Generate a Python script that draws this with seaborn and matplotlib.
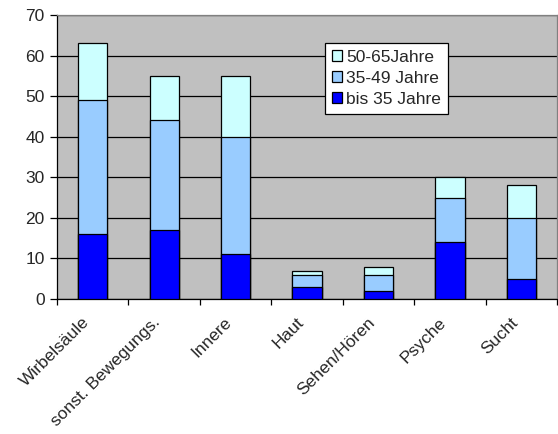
import numpy as np
import pandas as pd
import seaborn as sns
import matplotlib.pyplot as plt
from matplotlib.transforms import ScaledTranslation

categories = ['Wirbelsäule', 'sonst. Bewegungs.', 'Innere', 'Haut', 'Sehen/Hören', 'Psyche', 'Sucht']
bis35 = [16, 17, 11, 3, 2, 14, 5]
j35_49 = [33, 27, 29, 3, 4, 11, 15]
j50_65 = [14, 11, 15, 1, 2, 5, 8]
groups = ['50-65Jahre', '35-49 Jahre', 'bis 35 Jahre']
colors = ['#CCFFFF', '#99CCFF', '#0000FF']

sns.set_style('white')
plt.rcParams['font.family'] = ['Liberation Sans', 'DejaVu Sans']

# cumulative heights, drawn from the tallest down so the stacks overlap
lvl1 = np.array(bis35)
lvl2 = lvl1 + np.array(j35_49)
lvl3 = lvl2 + np.array(j50_65)
df = pd.DataFrame({'cat': categories * 3,
                   'value': np.concatenate([lvl3, lvl2, lvl1]),
                   'group': np.repeat(groups, len(categories))})

fig = plt.figure(figsize=(5.58, 4.34), dpi=100)
ax = fig.add_axes([57 / 558, 135 / 434, 500 / 558, 284 / 434])
ax.set_facecolor('#C0C0C0')

for g, c in zip(groups, colors):
    sub = df[df['group'] == g]
    sns.barplot(data=sub, x='cat', y='value', color=c, width=0.41, saturation=1,
                edgecolor='black', linewidth=0.9, ax=ax, label=g, zorder=3)

ax.set_xlim(-0.5, len(categories) - 0.5)
ax.set_ylim(0, 70)
ax.set_yticks(range(0, 71, 10))
ax.yaxis.grid(True, color='black', linewidth=0.9, zorder=0)
ax.set_axisbelow(True)
ax.set_xlabel('')
ax.set_ylabel('')

ax.set_xticks(np.arange(-0.5, len(categories), 1), minor=True)
ax.tick_params(axis='x', which='major', length=0, labelsize=12.5, pad=15)
ax.tick_params(axis='x', which='minor', length=4, width=0.9, direction='out', color='black', bottom=True)
ax.tick_params(axis='y', length=5, width=0.9, direction='out', color='black', left=True,
               labelsize=12.5, pad=4)
shift = ScaledTranslation(-6 / 100, 0, fig.dpi_scale_trans)
for lab in ax.get_xticklabels():
    lab.set_rotation(45)
    lab.set_ha('right')
    lab.set_va('center')
    lab.set_rotation_mode('anchor')
    lab.set_transform(lab.get_transform() + shift)

for side in ['top', 'right']:
    ax.spines[side].set_color('#808080')
    ax.spines[side].set_linewidth(0.9)
for side in ['left', 'bottom']:
    ax.spines[side].set_color('black')
    ax.spines[side].set_linewidth(0.9)

leg = ax.legend(loc='upper left', bbox_to_anchor=(325 / 558, 1 - 43 / 434),
                bbox_transform=fig.transFigure, frameon=True, fancybox=False,
                fontsize=12.5, handlelength=0.6, handleheight=0.6, handletextpad=0.2,
                borderpad=0.4, labelspacing=0.35, borderaxespad=0)
leg.get_frame().set_edgecolor('black')
leg.get_frame().set_linewidth(0.9)
leg.get_frame().set_alpha(1)

fig.savefig('out.png', dpi=100)
